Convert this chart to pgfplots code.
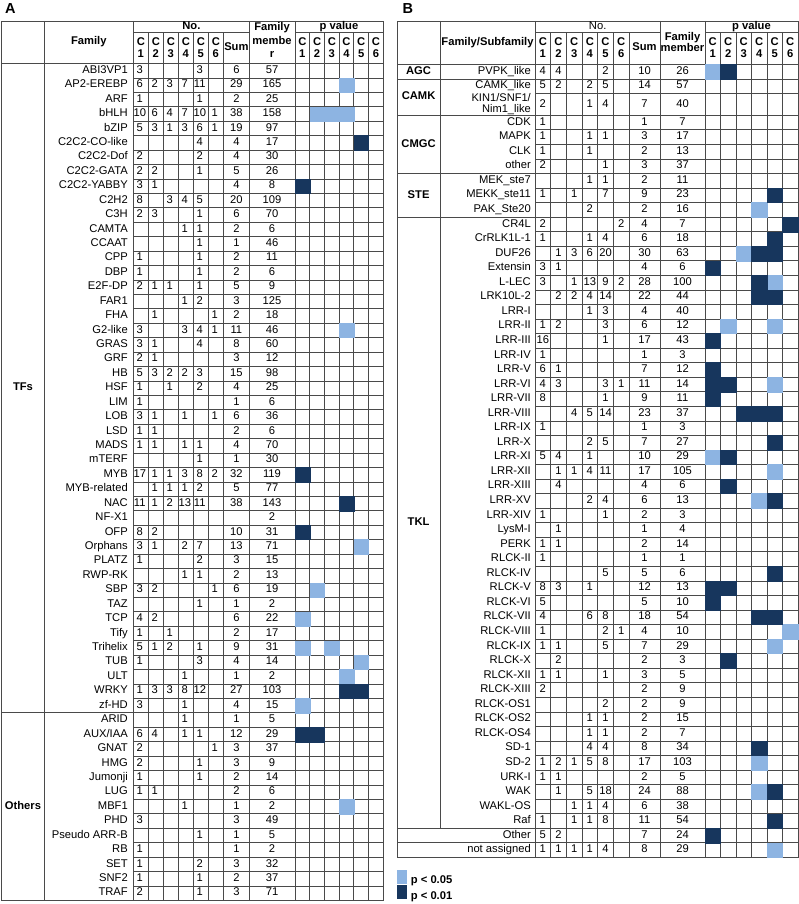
\documentclass[border=0pt]{standalone}
\usepackage{pgfplots}
\usepackage{pgfplotstable}
\pgfplotsset{compat=1.18}
\usepackage{fontspec}
\setmainfont{Liberation Sans}
\definecolor{lightp}{HTML}{8DB4E2}
\definecolor{darkp}{HTML}{17365D}
\definecolor{gridc}{HTML}{4A4A4A}
\newcommand\tf{\fontsize{11.2}{13}\selectfont}
\newcommand\hf{\fontsize{11.2}{13}\selectfont\bfseries}
\newcommand\kin{KIN1/SNF1/\\Nim1\_like}

\pgfplotstableread[col sep=comma]{
name,c1,c2,c3,c4,c5,c6,sum,mem
ABI3VP1,3,,,,3,,6,57
AP2-EREBP,6,2,3,7,11,,29,165
ARF,1,,,,1,,2,25
bHLH,10,6,4,7,10,1,38,158
bZIP,5,3,1,3,6,1,19,97
C2C2-CO-like,,,,,4,,4,17
C2C2-Dof,2,,,,2,,4,30
C2C2-GATA,2,2,,,1,,5,26
C2C2-YABBY,3,1,,,,,4,8
C2H2,8,,3,4,5,,20,109
C3H,2,3,,,1,,6,70
CAMTA,,,,1,1,,2,6
CCAAT,,,,,1,,1,46
CPP,1,,,,1,,2,11
DBP,1,,,,1,,2,6
E2F-DP,2,1,1,,1,,5,9
FAR1,,,,1,2,,3,125
FHA,,1,,,,1,2,18
G2-like,3,,,3,4,1,11,46
GRAS,3,1,,,4,,8,60
GRF,2,1,,,,,3,12
HB,5,3,2,2,3,,15,98
HSF,1,,1,,2,,4,25
LIM,1,,,,,,1,6
LOB,3,1,,1,,1,6,36
LSD,1,1,,,,,2,6
MADS,1,1,,1,1,,4,70
mTERF,,,,,1,,1,30
MYB,17,1,1,3,8,2,32,119
MYB-related,,1,1,1,2,,5,77
NAC,11,1,2,13,11,,38,143
NF-X1,,,,,,,,2
OFP,8,2,,,,,10,31
Orphans,3,1,,2,7,,13,71
PLATZ,1,,,,2,,3,15
RWP-RK,,,,1,1,,2,13
SBP,3,2,,,,1,6,19
TAZ,,,,,1,,1,2
TCP,4,2,,,,,6,22
Tify,1,,1,,,,2,17
Trihelix,5,1,2,,1,,9,31
TUB,1,,,,3,,4,14
ULT,,,,1,,,1,2
WRKY,1,3,3,8,12,,27,103
zf-HD,3,,,1,,,4,15
ARID,,,,1,,,1,5
AUX/IAA,6,4,,1,1,,12,29
GNAT,2,,,,,1,3,37
HMG,2,,,,1,,3,9
Jumonji,1,,,,1,,2,14
LUG,1,1,,,,,2,6
MBF1,,,,1,,,1,2
PHD,3,,,,,,3,49
Pseudo ARR-B,,,,,1,,1,5
RB,1,,,,,,1,2
SET,1,,,,2,,3,32
SNF2,1,,,,1,,2,37
TRAF,2,,,,1,,3,71
}\tabA

\pgfplotstableread[col sep=comma]{
r,name,c1,c2,c3,c4,c5,c6,sum,mem
0.5,PVPK\_like,4,4,,,2,,10,26
1.5,CAMK\_like,5,2,,2,5,,14,57
2.75,,2,,,1,4,,7,40
4,CDK,1,,,,,,1,7
5,MAPK,1,,,1,1,,3,17
6,CLK,1,,,1,,,2,13
7,other,2,,,,1,,3,37
8,MEK\_ste7,,,,1,1,,2,11
9,MEKK\_ste11,1,,1,,7,,9,23
10,PAK\_Ste20,,,,2,,,2,16
11,CR4L,2,,,,,2,4,7
12,CrRLK1L-1,1,,,1,4,,6,18
13,DUF26,,1,3,6,20,,30,63
14,Extensin,3,1,,,,,4,6
15,L-LEC,3,,1,13,9,2,28,100
16,LRK10L-2,,2,2,4,14,,22,44
17,LRR-I,,,,1,3,,4,40
18,LRR-II,1,2,,,3,,6,12
19,LRR-III,16,,,,1,,17,43
20,LRR-IV,1,,,,,,1,3
21,LRR-V,6,1,,,,,7,12
22,LRR-VI,4,3,,,3,1,11,14
23,LRR-VII,8,,,,1,,9,11
24,LRR-VIII,,,4,5,14,,23,37
25,LRR-IX,1,,,,,,1,3
26,LRR-X,,,,2,5,,7,27
27,LRR-XI,5,4,,1,,,10,29
28,LRR-XII,,1,1,4,11,,17,105
29,LRR-XIII,,4,,,,,4,6
30,LRR-XV,,,,2,4,,6,13
31,LRR-XIV,1,,,,1,,2,3
32,LysM-I,,1,,,,,1,4
33,PERK,1,1,,,,,2,14
34,RLCK-II,1,,,,,,1,1
35,RLCK-IV,,,,,5,,5,6
36,RLCK-V,8,3,,1,,,12,13
37,RLCK-VI,5,,,,,,5,10
38,RLCK-VII,4,,,6,8,,18,54
39,RLCK-VIII,1,,,,2,1,4,10
40,RLCK-IX,1,1,,,5,,7,29
41,RLCK-X,,2,,,,,2,3
42,RLCK-XII,1,1,,,1,,3,5
43,RLCK-XIII,2,,,,,,2,9
44,RLCK-OS1,,,,,2,,2,9
45,RLCK-OS2,,,,1,1,,2,15
46,RLCK-OS4,,,,1,1,,2,7
47,SD-1,,,,4,4,,8,34
48,SD-2,1,2,1,5,8,,17,103
49,URK-I,1,1,,,,,2,5
50,WAK,,1,,5,18,,24,88
51,WAKL-OS,,,1,1,4,,6,38
52,Raf,1,,1,1,8,,11,54
53,Other,5,2,,,,,7,24
54,not assigned,1,1,1,1,4,,8,29
}\tabB

\pgfplotstableread{
c r
4 1
2 3
3 3
4 3
4 18
5 33
2 36
1 38
1 40
3 40
5 41
4 42
1 44
4 51
}\lightA

\pgfplotstableread{
c r
5 5
1 8
1 28
4 30
1 32
4 43
5 43
1 46
2 46
}\darkA

\pgfplotstableread{
c r
1 0.5
4 10
3 13
5 15
2 18
5 18
5 22
1 27
5 28
4 30
6 39
5 40
4 48
4 50
5 54
}\lightB

\pgfplotstableread{
c r
2 0.5
5 9
6 11
5 12
4 13
5 13
1 14
4 15
4 16
5 16
1 19
1 21
1 22
2 22
1 23
3 24
4 24
5 24
5 26
2 27
2 29
5 30
5 35
1 36
2 36
1 37
4 38
5 38
2 41
4 47
5 50
5 52
1 53
}\darkB

\pgfplotsset{
  txt/.style={draw=none, mark=none, forget plot, nodes near coords,
    point meta=explicit symbolic, nodes near coords align=center,
    every node near coord/.append style={font=\tf, inner sep=0pt, anchor=mid, text=black}},
  nm/.style={txt, every node near coord/.append style={anchor=mid east}},
}
\tikzset{gl/.style={gridc, line width=0.75pt}}
\newcommand\Acol[2]{\addplot[txt] table[x expr=#1, y expr={63.5+14.43*(\coordindex+0.5)}, meta=#2] {\tabA};}
\newcommand\Bcol[2]{\addplot[txt] table[x expr=#1, y expr={64.4+14.55*\thisrow{r}}, meta=#2] {\tabB};}

\begin{document}
\begin{tikzpicture}
\begin{axis}[
  x=1pt, y=1pt, y dir=reverse,
  xmin=0, xmax=799, ymin=0, ymax=904,
  hide axis, clip=false,
  legend style={at={(axis cs:397.3,870)}, anchor=north west, draw=none, fill=none,
    inner sep=0pt, outer sep=0pt, row sep=0pt, font=\hf,
    nodes={inner sep=0pt}, /tikz/column 1/.style={column sep=4.5pt}},
  legend cell align=left,
]
\path (0,0) rectangle (799,904);

% ---------- coloured p-value cells ----------
\addplot[only marks, mark=square*, mark size=7.215pt, color=lightp, forget plot,
  mark options={draw=none, xscale=1.02}]
  table[x expr={295+14.72*(\thisrow{c}-0.5)}, y expr={63.5+14.43*(\thisrow{r}+0.5)}] {\lightA};
\addplot[only marks, mark=square*, mark size=7.215pt, color=darkp, forget plot,
  mark options={draw=none, xscale=1.02}]
  table[x expr={295+14.72*(\thisrow{c}-0.5)}, y expr={63.5+14.43*(\thisrow{r}+0.5)}] {\darkA};
\addplot[only marks, mark=square*, mark size=7.275pt, color=lightp,
  mark options={draw=none, xscale=1.065},
  legend image code/.code={\fill[lightp] (0pt,-2.5pt) rectangle (8.7pt,10.5pt);}]
  table[x expr={705+15.5*(\thisrow{c}-0.5)}, y expr={64.4+14.55*\thisrow{r}}] {\lightB};
\addlegendentry{p < 0.05}
\addplot[only marks, mark=square*, mark size=7.275pt, color=darkp,
  mark options={draw=none, xscale=1.065},
  legend image code/.code={\fill[darkp] (0pt,-2.5pt) rectangle (8.7pt,10.5pt);}]
  table[x expr={705+15.5*(\thisrow{c}-0.5)}, y expr={64.4+14.55*\thisrow{r}}] {\darkB};
\addlegendentry{p < 0.01}

% ---------- panel A text ----------
\addplot[nm] table[x expr=128, y expr={63.5+14.43*(\coordindex+0.5)}, meta=name] {\tabA};
\Acol{139.8}{c1}
\Acol{154.8}{c2}
\Acol{169.8}{c3}
\Acol{184.8}{c4}
\Acol{199.8}{c5}
\Acol{214.8}{c6}
\Acol{236.4}{sum}
\Acol{272}{mem}

% ---------- panel B text ----------
\addplot[nm] table[x expr=531, y expr={64.4+14.55*\thisrow{r}}, meta=name] {\tabB};
\addplot[txt, every node near coord/.append style={anchor=east, align=right,
  font=\fontsize{11.1}{11.2}\selectfont}] coordinates {(531,104.4) [\kin]};
\Bcol{542.8}{c1}
\Bcol{558.5}{c2}
\Bcol{574.2}{c3}
\Bcol{589.8}{c4}
\Bcol{605.5}{c5}
\Bcol{621.2}{c6}
\Bcol{644.5}{sum}
\Bcol{682.5}{mem}

% ---------- panel A grid ----------
\draw[gl] (1.7,20.9) rectangle (383.3,900.4);
\pgfplotsinvokeforeach{44.3,133.3,249.5,295}{\draw[gl] (#1,20.9) -- (#1,900.4);}
\pgfplotsinvokeforeach{148.3,163.3,178.3,193.3,208.3,223.3,309.7,324.4,339.1,353.8,368.6}{
  \draw[gl] (#1,32.5) -- (#1,900.4);}
\draw[gl] (133.3,32.5) -- (249.5,32.5);
\draw[gl] (295,32.5) -- (383.3,32.5);
\draw[gl] (1.7,63.5) -- (383.3,63.5);
\draw[gl] (1.7,712.85) -- (383.3,712.85);
\pgfplotsinvokeforeach{1,...,44,46,47,48,49,50,51,52,53,54,55,56,57}{
  \draw[gl] (133.3,{63.5+#1*14.43}) -- (383.3,{63.5+#1*14.43});}

% ---------- panel B grid ----------
\draw[gl] (397.3,20.9) rectangle (798,857.4);
\draw[gl] (440,20.9) -- (440,828.3);
\pgfplotsinvokeforeach{535,660,705}{\draw[gl] (#1,20.9) -- (#1,857.4);}
\pgfplotsinvokeforeach{550.7,566.3,582,597.7,613.3,629,720.5,736,751.5,767,782.5}{
  \draw[gl] (#1,32.5) -- (#1,857.4);}
\draw[gl] (535,32.5) -- (660,32.5);
\draw[gl] (705,32.5) -- (798,32.5);
\pgfplotsinvokeforeach{0,1,3.5,7.5,10.5,52.5,53.5}{
  \draw[gl] (397.3,{64.4+#1*14.55}) -- (798,{64.4+#1*14.55});}
\pgfplotsinvokeforeach{2,4.5,5.5,6.5,8.5,9.5}{
  \draw[gl] (535,{64.4+#1*14.55}) -- (798,{64.4+#1*14.55});}
\pgfplotsinvokeforeach{11,...,51}{
  \draw[gl] (535,{64.4+(#1+0.5)*14.55}) -- (798,{64.4+(#1+0.5)*14.55});}

% ---------- headers ----------
\node[font=\fontsize{14.5}{16}\selectfont\bfseries, anchor=base west] at (1.5,14) {A};
\node[font=\fontsize{14.5}{16}\selectfont\bfseries, anchor=base west] at (399,14) {B};

\node[font=\hf, anchor=mid] at (191.4,26.7) {No.};
\node[font=\hf, anchor=mid] at (88.8,42.3) {Family};
\node[font=\hf, anchor=mid] at (272,27.8) {Family};
\node[font=\hf, anchor=mid] at (272,41.8) {membe};
\node[font=\hf, anchor=mid] at (272,55.3) {r};
\node[font=\hf, anchor=mid] at (339,26.7) {p value};
\node[font=\hf, anchor=mid] at (236.4,48.3) {Sum};
\pgfplotsinvokeforeach{1,...,6}{
  \node[font=\hf, anchor=mid] at ({133.3+15*(#1-0.5)},43.2) {C};
  \node[font=\hf, anchor=mid] at ({133.3+15*(#1-0.5)},55.3) {#1};
  \node[font=\hf, anchor=mid] at ({295+14.72*(#1-0.5)},43.2) {C};
  \node[font=\hf, anchor=mid] at ({295+14.72*(#1-0.5)},55.3) {#1};
  \node[font=\hf, anchor=mid] at ({535+15.67*(#1-0.5)},43.2) {C};
  \node[font=\hf, anchor=mid] at ({535+15.67*(#1-0.5)},55.3) {#1};
  \node[font=\hf, anchor=mid] at ({705+15.5*(#1-0.5)},43.2) {C};
  \node[font=\hf, anchor=mid] at ({705+15.5*(#1-0.5)},55.3) {#1};
}
\node[font=\tf, anchor=mid] at (597.7,26.4) {No.};
\node[font=\hf, anchor=mid] at (487.5,42.5) {Family/Subfamily};
\node[font=\hf, anchor=mid] at (644.5,48.3) {Sum};
\node[font=\hf, anchor=mid] at (682.5,37.4) {Family};
\node[font=\hf, anchor=mid] at (682.5,48.6) {member};
\node[font=\hf, anchor=mid] at (751.5,26.4) {p value};

% ---------- group labels ----------
\node[font=\hf, anchor=mid] at (23,388.2) {TFs};
\node[font=\hf, anchor=mid] at (23,806.6) {Others};
\node[font=\hf, anchor=mid] at (418.6,71.7) {AGC};
\node[font=\hf, anchor=mid] at (418.6,97.1) {CAMK};
\node[font=\hf, anchor=mid] at (418.6,144.4) {CMGC};
\node[font=\hf, anchor=mid] at (418.6,195.4) {STE};
\node[font=\hf, anchor=mid] at (418.6,522.7) {TKL};
\end{axis}
\end{tikzpicture}
\end{document}
